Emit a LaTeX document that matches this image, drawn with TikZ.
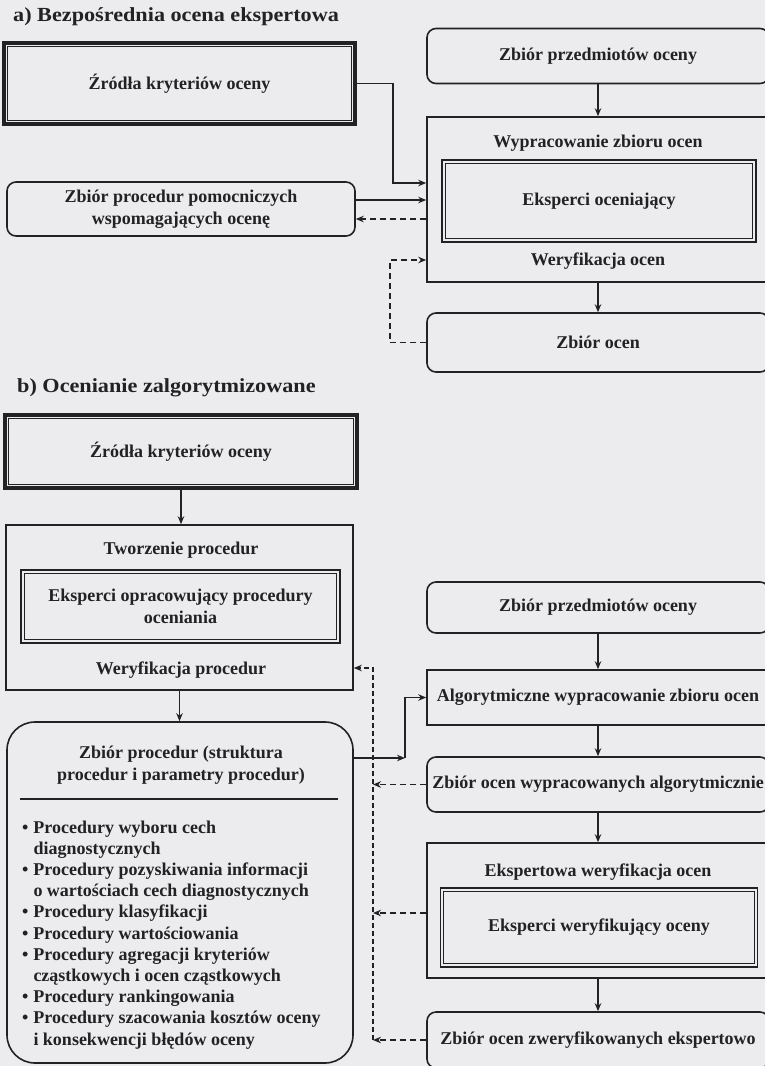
\documentclass[tikz,border=0pt]{standalone}
\usepackage{fontspec}
\setmainfont{Liberation Serif}
\usetikzlibrary{arrows.meta,calc}
\definecolor{paper}{RGB}{236,236,238}
\definecolor{ink}{RGB}{34,34,34}
\tikzset{
  lbl/.style={text=ink, inner sep=0pt, align=center},
  sbox/.style={draw=ink, line width=1.6pt, inner sep=0pt, text=ink, align=center},
  rbox/.style={sbox, rounded corners=9pt},
  thickbox/.style={draw=ink, line width=3.8pt, inner sep=0pt, text=ink, align=center},
  dblbox/.style={draw=ink, line width=1.7pt, inner sep=0pt, text=ink, align=center},
  innerline/.style={draw=ink, line width=1.1pt},
  arr/.style={draw=ink, line width=1.6pt, -{Stealth[length=8pt,width=6.5pt]}},
  dsh/.style={dash pattern=on 6pt off 4pt},
  vdsh/.style={dash pattern=on 5pt off 3pt},
  ttl/.style={text=ink, inner sep=0pt, anchor=west, font=\fontsize{20}{22}\selectfont\bfseries}
}
\begin{document}
\begin{tikzpicture}[x=1pt,y=-1pt, font=\fontsize{18}{22}\selectfont\bfseries]
\fill[paper] (0,0) rectangle (765,1066);
\clip (0,0) rectangle (765,1066);

% ---------- part a ----------
\node[ttl] (titA) at (13,17) {\scalebox{1.11}[1]{a) Bezpośrednia ocena ekspertowa}};
\node[thickbox, minimum width=351pt, minimum height=81pt] (zrA) at (179.5,83.5) {Źródła kryteriów oceny};
\draw[innerline] ([xshift=5.5pt,yshift=-5.5pt]zrA.north west) rectangle ([xshift=-5.5pt,yshift=5.5pt]zrA.south east);
\node[rbox, minimum width=348pt, minimum height=54pt] (zppA) at (181,209) {Zbiór procedur pomocniczych\\wspomagających ocenę};

\node[rbox, minimum width=342pt, minimum height=55pt] (zpoA) at (598,56) {Zbiór przedmiotów oceny};
\node[sbox, minimum width=342pt, minimum height=165pt] (wypA) at (598,199.5) {};
\node[lbl] (wypAt) at (598,143) {Wypracowanie zbioru ocen};
\node[dblbox, minimum width=314pt, minimum height=82pt] (ekA) at (599,201) {Eksperci oceniający};
\draw[innerline] ([xshift=4pt,yshift=-4pt]ekA.north west) rectangle ([xshift=-4pt,yshift=4pt]ekA.south east);
\node[lbl] (werA) at (598,261) {Weryfikacja ocen};
\node[rbox, minimum width=342pt, minimum height=59pt] (zoA) at (598,342.5) {Zbiór ocen};

\coordinate (ka) at (393,183);
\coordinate (ya1) at (0,200);
\coordinate (ya2) at (0,219);
\coordinate (da) at (390,260);
\draw[arr] (zpoA.south) -- (wypA.north);
\draw[arr] (wypA.south) -- (zoA.north);
\draw[arr] (zrA.east) -| (ka) -- (ka -| wypA.west);
\draw[arr] (zppA.east |- ya1) -- (wypA.west |- ya1);
\draw[arr,dsh] (wypA.west |- ya2) -- (zppA.east |- ya2);
\draw[arr,dsh] (zoA.west) -| (da) -- (da -| wypA.west);

% ---------- part b ----------
\node[ttl] (titB) at (17,388) {\scalebox{1.11}[1]{b) Ocenianie zalgorytmizowane}};
\node[thickbox, minimum width=352pt, minimum height=73pt] (zrB) at (181,451.5) {Źródła kryteriów oceny};
\draw[innerline] ([xshift=5.5pt,yshift=-5.5pt]zrB.north west) rectangle ([xshift=-5.5pt,yshift=5.5pt]zrB.south east);

\node[sbox, minimum width=347pt, minimum height=165pt] (twB) at (179.5,607.5) {};
\node[lbl] (twBt) at (181,550) {Tworzenie procedur};
\node[dblbox, minimum width=319pt, minimum height=73pt] (eopB) at (180.5,606.5) {Eksperci opracowujący procedury\\oceniania};
\draw[innerline] ([xshift=4pt,yshift=-4pt]eopB.north west) rectangle ([xshift=-4pt,yshift=4pt]eopB.south east);
\node[lbl] (werB) at (181,670) {Weryfikacja procedur};

\node[rbox, rounded corners=28pt, minimum width=346pt, minimum height=341pt] (zpB) at (180,892.5) {};
\node[lbl] (zpBt) at (181,765) {Zbiór procedur (struktura\\procedur i parametry procedur)};
\draw[draw=ink, line width=1.4pt] (20,799) -- (338,799);
\node[text=ink, inner sep=0pt, anchor=base west, font=\fontsize{18}{21.2}\selectfont\bfseries] (list) at (22,833) {%
\begin{tabular}[t]{@{}l@{\hspace{5pt}}l@{}}
\textbullet & Procedury wyboru cech\\
 & diagnostycznych\\
\textbullet & Procedury pozyskiwania informacji\\
 & o wartościach cech diagnostycznych\\
\textbullet & Procedury klasyfikacji\\
\textbullet & Procedury wartościowania\\
\textbullet & Procedury agregacji kryteriów\\
 & cząstkowych i ocen cząstkowych\\
\textbullet & Procedury rankingowania\\
\textbullet & Procedury szacowania kosztów oceny\\
 & i konsekwencji błędów oceny
\end{tabular}};

\node[rbox, minimum width=342pt, minimum height=51pt] (zpoB) at (598,607.5) {Zbiór przedmiotów oceny};
\node[sbox, minimum width=342pt, minimum height=55pt] (algB) at (598,697.5) {Algorytmiczne wypracowanie zbioru ocen};
\node[rbox, minimum width=342pt, minimum height=55pt] (zowB) at (598,784.5) {Zbiór ocen wypracowanych algorytmicznie};
\node[sbox, minimum width=342pt, minimum height=135pt] (ewB) at (598,910.5) {};
\node[lbl] (ewBt) at (598,872) {Ekspertowa weryfikacja ocen};
\node[dblbox, minimum width=317pt, minimum height=79pt] (ekwB) at (599,927.5) {Eksperci weryfikujący oceny};
\draw[innerline] ([xshift=4pt,yshift=-4pt]ekwB.north west) rectangle ([xshift=-4pt,yshift=4pt]ekwB.south east);
\node[rbox, minimum width=342pt, minimum height=56pt] (zozB) at (598,1040) {Zbiór ocen zweryfikowanych ekspertowo};

\draw[arr] (zrB.south) -- (zrB.south |- twB.north);
\draw[arr] (twB.south) -- (twB.south |- zpB.north);
\draw[arr] (zpoB.south) -- (algB.north);
\draw[arr] (algB.south) -- (zowB.north);
\draw[arr] (zowB.south) -- (ewB.north);
\draw[arr] (ewB.south) -- (zozB.north);

\coordinate (kb) at (405,758);
\draw[arr] (zpB.east |- kb) -- (kb);
\draw[arr] (kb) |- (algB.west);

\coordinate (vt) at (373,668);
\coordinate (vb) at (373,1040);
\coordinate (ye) at (0,913);
\draw[arr,vdsh] (vb) -- (vt) -- (vt -| twB.east);
\draw[arr,dsh] (zowB.west) -- (zowB.west -| vt);
\draw[arr,dsh] (ewB.west |- ye) -- (ye -| vt);
\draw[arr,dsh] (zozB.west) -- (vb);
\end{tikzpicture}
\end{document}
